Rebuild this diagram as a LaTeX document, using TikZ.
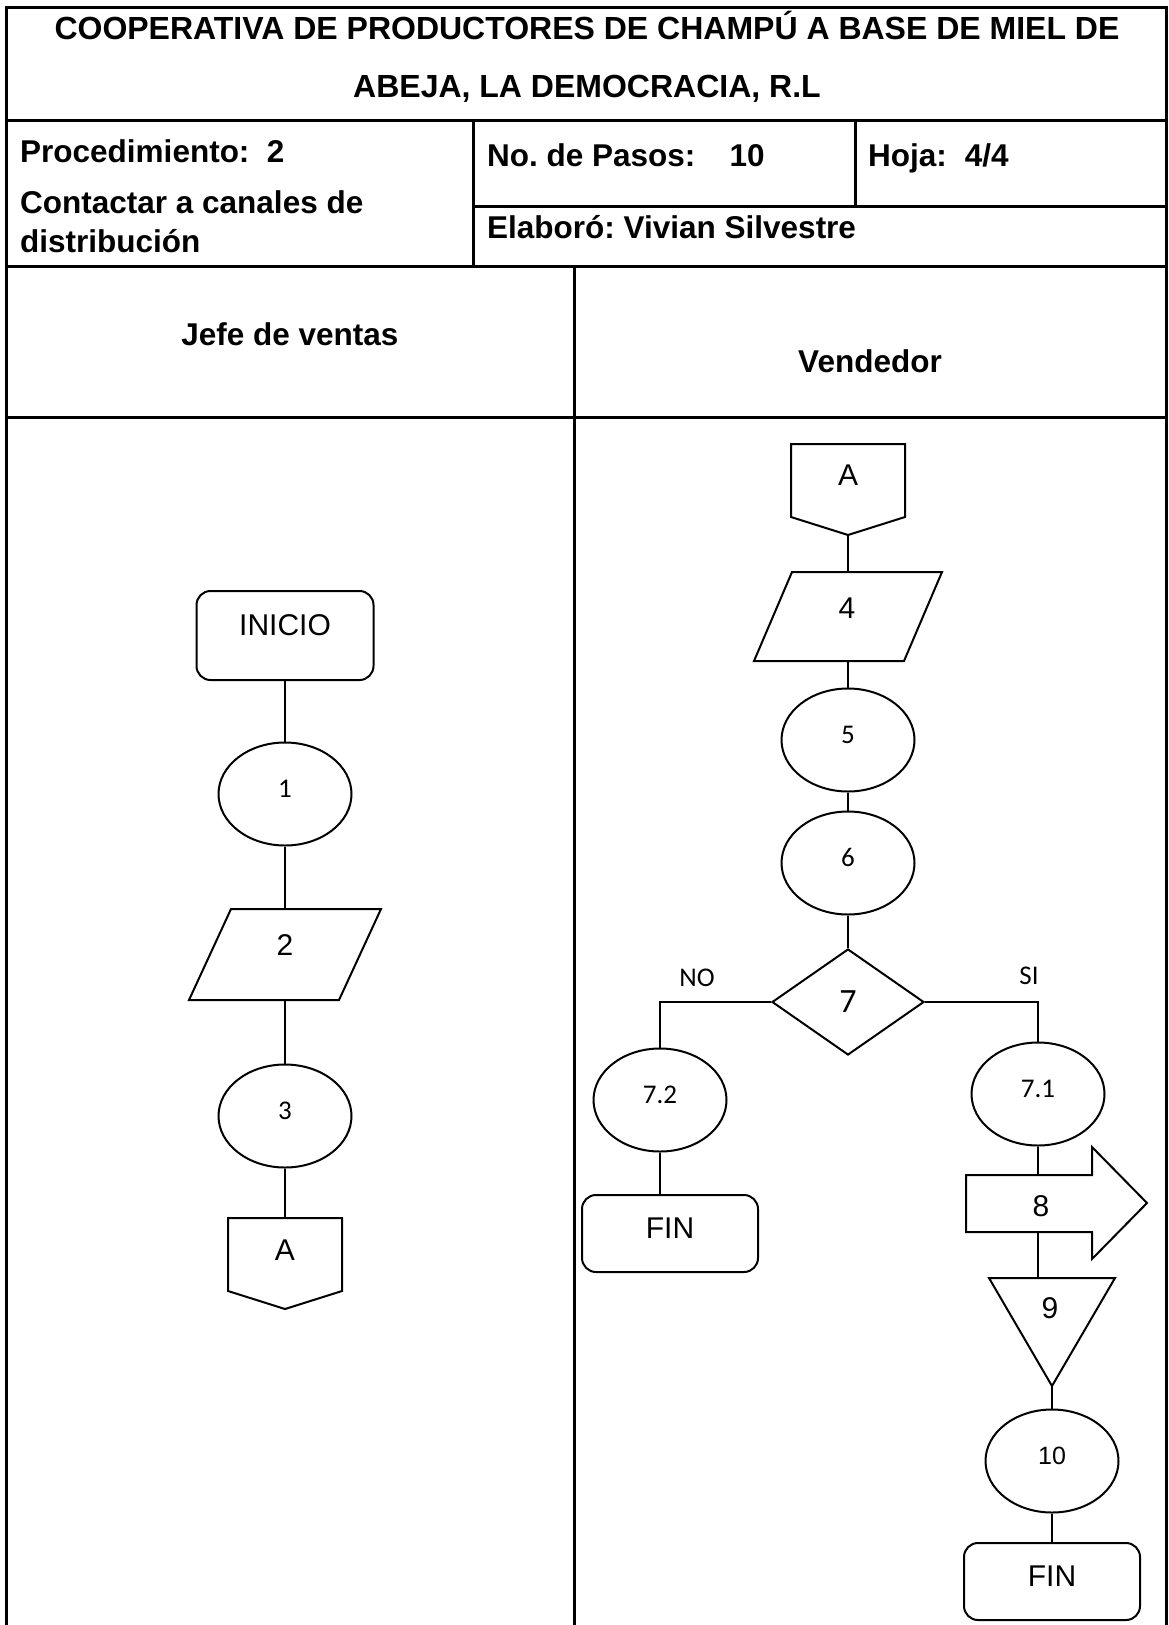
\documentclass[tikz,border=0pt]{standalone}
\usepackage{fontspec}
\setmainfont{Liberation Sans}
\newfontfamily\calibri{Carlito}
\usetikzlibrary{shapes.geometric}
\frenchspacing
\begin{document}
\begin{tikzpicture}[x=1pt,y=-1pt,
  frame/.style={line width=3pt},
  shapeline/.style={draw, line width=2pt, line join=miter},
  conn/.style={line width=1.3pt},
  hdr/.style={font=\bfseries\fontsize{31.5}{38}\selectfont, inner sep=0pt},
  titletxt/.style={font=\bfseries\fontsize{32}{38}\selectfont, inner sep=0pt},
  bigtxt/.style={font=\fontsize{30}{36}\selectfont, inner sep=0pt},
  smalltxt/.style={font=\calibri\fontsize{27}{32}\selectfont, inner sep=0pt},
  labeltxt/.style={font=\calibri\fontsize{27}{30}\selectfont, inner sep=0pt},
  procell/.style={ellipse, draw, line width=2pt, minimum width=133pt, minimum height=103pt, inner sep=0pt, smalltxt, text height=17pt, text depth=11pt},
  termbox/.style={rectangle, rounded corners=14pt, draw, line width=2pt, minimum width=176pt, minimum height=77pt, inner sep=0pt, bigtxt, text height=22pt, text depth=12pt},
]
\useasboundingbox (0,0) rectangle (1168,1625);

% ---- table frame ----
\draw[frame] (6,1640) -- (6,7) -- (1166,7) -- (1166,1640);
\draw[frame] (6,120) -- (1166,120);
\draw[frame] (473,120) -- (473,266);
\draw[frame] (855,120) -- (855,206);
\draw[frame] (473,206) -- (1166,206);
\draw[frame] (6,266) -- (1166,266);
\draw[frame] (574,266) -- (574,1640);
\draw[frame] (6,417) -- (1166,417);

% ---- header texts ----
\node[titletxt, anchor=base] (title1) at (587,39) {COOPERATIVA DE PRODUCTORES DE CHAMPÚ A BASE DE MIEL DE};
\node[titletxt, anchor=base] (title2) at (587,97) {ABEJA, LA DEMOCRACIA, R.L};
\node[hdr, anchor=base west] (proc) at (20,162) {Procedimiento:\ \ 2};
\node[hdr, anchor=base west] (cont1) at (20,213) {Contactar a canales de};
\node[hdr, anchor=base west] (cont2) at (20,252) {distribución};
\node[hdr, anchor=base west] (pasos) at (487,166) {No. de Pasos:\hspace{34pt}10};
\node[hdr, anchor=base west] (hoja) at (868,166) {Hoja:\hspace{18pt}4/4};
\node[hdr, anchor=base west] (elab) at (487,238) {Elaboró: Vivian Silvestre};
\node[hdr, anchor=base] (jefe) at (290,345) {Jefe de ventas};
\node[hdr, anchor=base] (vend) at (870,372) {Vendedor};

% ---- left lane ----
\node[termbox, minimum width=177pt, minimum height=89pt, text depth=22pt] (inicio) at (285,635.5) {INICIO};
\node[procell] (p1) at (285,794) {1};
\draw[shapeline] (231,909) -- (381,909) -- (339,1000) -- (189,1000) -- cycle;
\coordinate (p2top) at (285,909);
\coordinate (p2bot) at (285,1000);
\node[bigtxt] (p2) at (285,945) {2};
\node[procell] (p3) at (285,1116) {3};
\draw[shapeline] (228,1218) -- (342,1218) -- (342,1291) -- (285,1309) -- (228,1291) -- cycle;
\coordinate (a1top) at (285,1218);
\node[bigtxt] (a1) at (285,1250) {A};

\draw[conn] (inicio.south) -- (p1.north);
\draw[conn] (p1.south) -- (p2top);
\draw[conn] (p2bot) -- (p3.north);
\draw[conn] (p3.south) -- (a1top);

% ---- right lane ----
\draw[shapeline] (791,444) -- (905,444) -- (905,517) -- (848,535) -- (791,517) -- cycle;
\coordinate (a2bot) at (848,535);
\node[bigtxt] (a2) at (848,475) {A};
\draw[shapeline] (792,572) -- (942,572) -- (904,661) -- (754,661) -- cycle;
\coordinate (p4top) at (848,572);
\coordinate (p4bot) at (848,661);
\node[bigtxt] (p4) at (847,608) {4};
\node[procell] (p5) at (848,740) {5};
\node[procell] (p6) at (848,863) {6};
\node[diamond, draw, line width=2pt, minimum width=152pt, minimum height=106pt, inner sep=0pt, aspect=1.43, font=\calibri\fontsize{34}{38}\selectfont] (d7) at (848,1002) {7};
\node[labeltxt] (no) at (697,978) {NO};
\node[labeltxt] (si) at (1029,976) {SI};
\node[procell] (p72) at (660,1100) {7.2};
\node[termbox] (fin1) at (670,1233.5) {FIN};
\node[procell] (p71) at (1038,1094) {7.1};
\draw[shapeline] (966,1175) -- (1092,1175) -- (1092,1147) -- (1147,1203) -- (1092,1259) -- (1092,1232) -- (966,1232) -- cycle;
\coordinate (a8top) at (1038,1175);
\coordinate (a8bot) at (1038,1232);
\node[bigtxt] (p8) at (1041,1206) {8};
\draw[shapeline] (989,1278) -- (1115,1278) -- (1052,1386) -- cycle;
\coordinate (t9top) at (1052,1278);
\coordinate (t9tip) at (1052,1386);
\node[bigtxt] (p9) at (1050,1308) {9};
\node[procell, font=\fontsize{25}{28}\selectfont] (p10) at (1052,1461) {10};
\node[termbox] (fin2) at (1052,1581.5) {FIN};

\draw[conn] (a2bot) -- (p4top);
\draw[conn] (p4bot) -- (p5.north);
\draw[conn] (p5.south) -- (p6.north);
\draw[conn] (p6.south) -- (d7.north);
\draw[conn] (d7.west) -| (p72.north);
\draw[conn] (p72.south) -- (p72.south |- fin1.north);
\draw[conn] (d7.east) -| (p71.north);
\draw[conn] (p71.south) -- (a8top);
\draw[conn] (a8bot) -- (a8bot |- t9top);
\draw[conn] (t9tip) -- (p10.north);
\draw[conn] (p10.south) -- (fin2.north);
\end{tikzpicture}
\end{document}
